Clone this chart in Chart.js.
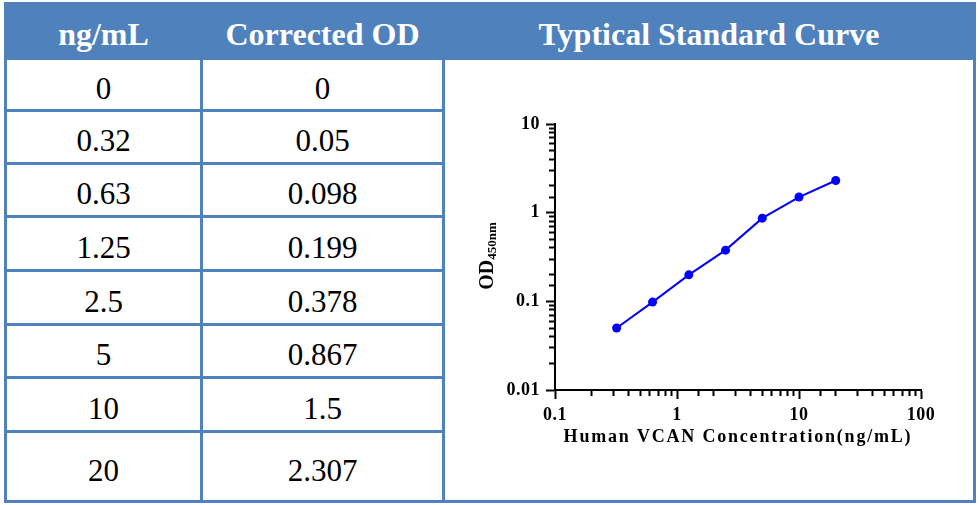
<!DOCTYPE html>
<html>
<head>
<meta charset="utf-8">
<script src="https://cdn.jsdelivr.net/npm/chart.js@4/dist/chart.umd.min.js"></script>
<style>
  html, body { margin: 0; padding: 0; background: #fff; }
  body { width: 980px; height: 505px; position: relative; overflow: hidden; }
  #grid {
    position: absolute; left: 4px; top: 2px;
    display: grid;
    grid-template-columns: 193px 239px 528px;
    grid-template-rows: 52px 49px 50px 50px 51px 51px 50px 51px 67px;
    gap: 3px; padding: 3px;
    background: #4F81BD;
    font-family: "Liberation Serif", "Times New Roman", serif;
  }
  .cell {
    background: #fff; color: #000; font-size: 31px;
    display: flex; align-items: center; justify-content: center;
    padding-top: 8px; box-sizing: border-box;
  }
  .head {
    background: #4F81BD; color: #fff; font-weight: bold; font-size: 32px;
    display: flex; align-items: center; justify-content: center;
    padding-top: 7px; box-sizing: border-box;
  }
  #chartCell { background: #fff; grid-column: 3; grid-row: 2 / span 8; position: relative; }
  #chartCell canvas { position: absolute; left: 0; top: 0; }
</style>
</head>
<body>
<div id="grid">
  <div class="head">ng/mL</div>
  <div class="head">Corrected OD</div>
  <div class="head">Typtical Standard Curve</div>
  <div id="chartCell"><canvas id="curve" width="528" height="440"></canvas></div>
</div>
<script>
  /* =========================
     DATA
  ========================= */
  const concentrations = [0, 0.32, 0.63, 1.25, 2.5, 5, 10, 20];
  const correctedOD = [0, 0.05, 0.098, 0.199, 0.378, 0.867, 1.5, 2.307];
  const xTicks = [0.1, 1, 10, 100];
  const yTicks = [0.01, 0.1, 1, 10];

  const SERIF = '"Liberation Serif", "Times New Roman", serif';

  /* =========================
     TABLE
  ========================= */
  const grid = document.getElementById("grid");
  const chartCell = document.getElementById("chartCell");
  concentrations.forEach((c, i) => {
    const a = document.createElement("div");
    a.className = "cell";
    a.style.gridColumn = "1";
    a.style.gridRow = String(i + 2);
    a.textContent = String(c);
    const b = document.createElement("div");
    b.className = "cell";
    b.style.gridColumn = "2";
    b.style.gridRow = String(i + 2);
    b.textContent = String(correctedOD[i]);
    grid.insertBefore(a, chartCell);
    grid.insertBefore(b, chartCell);
  });

  /* =========================
     HELPERS
  ========================= */
  const isDecade = v => Math.abs(Math.log10(v) - Math.round(Math.log10(v))) < 1e-6;
  const fmt = v => String(Number(v.toPrecision(1)));

  const points = concentrations
    .map((c, i) => ({ x: c, y: correctedOD[i] }))
    .filter(p => p.x > 0 && p.y > 0);

  // OD with subscript 450nm, drawn rotated next to the y axis
  const yTitlePlugin = {
    id: "yTitle",
    beforeDraw(chart) {
      chart.ctx.letterSpacing = "0.5px";
    },
    afterDraw(chart) {
      const ctx = chart.ctx;
      const area = chart.chartArea;
      ctx.save();
      ctx.letterSpacing = "0px";
      ctx.fillStyle = "#000";
      ctx.textBaseline = "middle";
      ctx.textAlign = "left";
      const big = "bold 20px " + SERIF;
      const small = "bold 13px " + SERIF;
      ctx.font = big;
      const w1 = ctx.measureText("OD").width;
      ctx.font = small;
      const w2 = ctx.measureText("450nm").width;
      ctx.translate(43, (area.top + area.bottom) / 2 - 1);
      ctx.rotate(-Math.PI / 2);
      const x0 = -(w1 + w2) / 2;
      ctx.font = big;
      ctx.fillText("OD", x0, 0);
      ctx.font = small;
      ctx.fillText("450nm", x0 + w1, 5);
      ctx.restore();
    }
  };

  // wider spacing for the x axis title
  const spacedTitlePlugin = {
    id: "spacedTitle",
    afterLayout(chart) {
      const xs = chart.scales.x;
      if (xs._spaced) return;
      const orig = xs.drawTitle.bind(xs);
      xs.drawTitle = function () {
        const ctx = chart.ctx;
        ctx.save();
        ctx.letterSpacing = "1.8px";
        orig();
        ctx.restore();
      };
      xs._spaced = true;
    }
  };

  /* =========================
     CHART
  ========================= */
  const tickFont = { family: SERIF, size: 18, weight: "bold" };

  new Chart(document.getElementById("curve"), {
    type: "line",
    data: {
      datasets: [{
        data: points,
        borderColor: "#0000FF",
        backgroundColor: "#0000FF",
        borderWidth: 2,
        pointRadius: 4.5,
        pointBorderWidth: 0,
        pointBackgroundColor: "#0000FF",
        tension: 0,
        fill: false
      }]
    },
    options: {
      responsive: false,
      animation: false,
      devicePixelRatio: 1,
      layout: { padding: { left: 0, right: 52, top: 64, bottom: 0 } },
      plugins: { legend: { display: false }, tooltip: { enabled: false } },
      scales: {
        x: {
          type: "logarithmic",
          min: xTicks[0],
          max: xTicks[xTicks.length - 1],
          afterFit: s => { s.height = 110; },
          border: { display: true, color: "#000", width: 2 },
          grid: {
            drawOnChartArea: false,
            drawTicks: true,
            tickLength: 9,
            tickWidth: 2,
            tickColor: "#000",
            tickBorderDash: c => (c.tick && isDecade(c.tick.value)) ? [] : [5, 100]
          },
          ticks: {
            autoSkip: false,
            maxRotation: 0,
            padding: 6,
            color: "#000",
            font: tickFont,
            callback: v => (isDecade(v) && xTicks.some(t => Math.abs(t - v) / t < 1e-6)) ? fmt(v) : ""
          },
          title: {
            display: true,
            text: "Human VCAN Concentration(ng/mL)",
            color: "#000",
            font: { family: SERIF, size: 18, weight: "bold" },
            padding: { top: 0, bottom: 52 }
          }
        },
        y: {
          type: "logarithmic",
          min: yTicks[0],
          max: yTicks[yTicks.length - 1],
          afterFit: s => { s.width = 110; },
          border: { display: true, color: "#000", width: 2 },
          grid: {
            drawOnChartArea: false,
            drawTicks: true,
            tickLength: 9,
            tickWidth: 2,
            tickColor: "#000",
            tickBorderDash: c => (c.tick && isDecade(c.tick.value)) ? [] : [0, 3, 5, 100]
          },
          ticks: {
            autoSkip: false,
            padding: 6,
            color: "#000",
            font: tickFont,
            callback: v => (isDecade(v) && yTicks.some(t => Math.abs(t - v) / t < 1e-6)) ? fmt(v) : ""
          }
        }
      }
    },
    plugins: [yTitlePlugin, spacedTitlePlugin]
  });
</script>
</body>
</html>
